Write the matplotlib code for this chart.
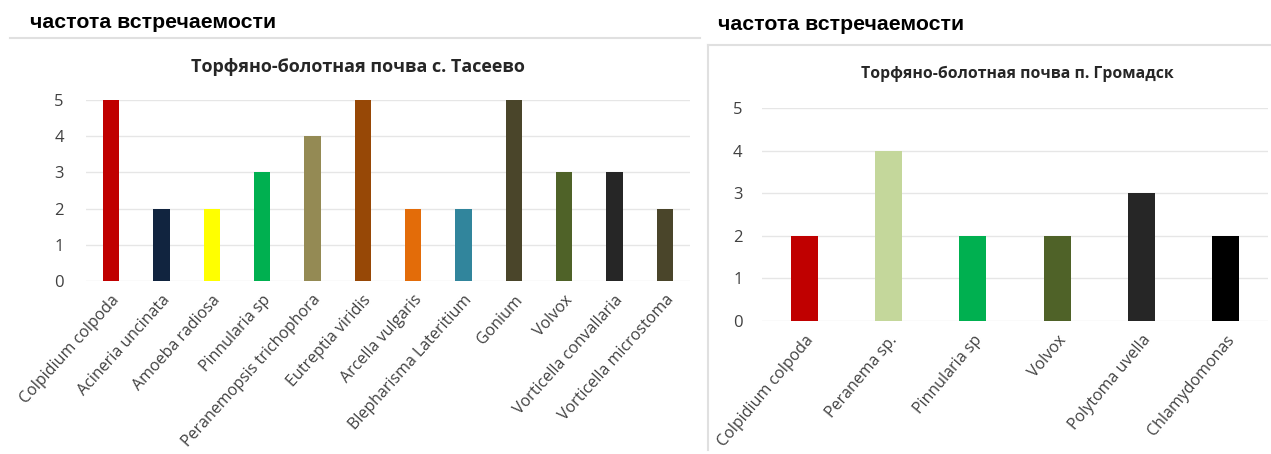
import matplotlib
matplotlib.use("Agg")
import matplotlib.pyplot as plt
from matplotlib.lines import Line2D
import matplotlib.transforms as mtransforms

plt.rcParams['font.family'] = ['Open Sans', 'DejaVu Sans']

header = "частота встречаемости"

left_title = "Торфяно-болотная почва с. Тасеево"
left_categories = ["Colpidium colpoda", "Acineria uncinata", "Amoeba radiosa", "Pinnularia sp",
                   "Peranemopsis trichophora", "Eutreptia viridis", "Arcella vulgaris",
                   "Blepharisma Lateritium", "Gonium", "Volvox", "Vorticella convallaria",
                   "Vorticella microstoma"]
left_values = [5, 2, 2, 3, 4, 5, 2, 2, 5, 3, 3, 2]
left_colors = ["#C00000", "#11243F", "#FFFF00", "#00B050", "#948A54", "#974806",
               "#E36C09", "#31859C", "#4A452A", "#4F6228", "#262626", "#4A452A"]

right_title = "Торфяно-болотная почва п. Громадск"
right_categories = ["Colpidium colpoda", "Peranema sp.", "Pinnularia sp", "Volvox",
                    "Polytoma uvella", "Chlamydomonas"]
right_values = [2, 4, 2, 2, 3, 2]
right_colors = ["#C00000", "#C4D79B", "#00B050", "#4F6228", "#262626", "#000000"]

W, H = 1271, 454
fig = plt.figure(figsize=(W / 100, H / 100), dpi=100)


def px_axes(x0, y_top, x1, y_bottom):
    return fig.add_axes([x0 / W, 1 - y_bottom / H, (x1 - x0) / W, (y_bottom - y_top) / H])


def style(ax, cats, vals, cols, width, fs, rot, dx, ypad):
    ax.bar(range(len(cats)), vals, color=cols, width=width, zorder=3)
    ax.set_xlim(-0.5, len(cats) - 0.5)
    ax.set_ylim(0, 5)
    ax.set_yticks(range(6))
    ax.grid(axis='y', color='#E6E6E6', linewidth=1, zorder=0)
    for s in ax.spines.values():
        s.set_visible(False)
    ax.tick_params(axis='both', length=0, colors='#404040', labelsize=12)
    ax.tick_params(axis='y', pad=ypad)
    ax.set_xticks(range(len(cats)))
    ax.set_xticklabels(cats, rotation=rot, ha='right', rotation_mode='anchor',
                       fontsize=fs, color='#404040')
    ax.tick_params(axis='x', pad=8)
    off = mtransforms.ScaledTranslation(dx / 100, 0, fig.dpi_scale_trans)
    for lab in ax.get_xticklabels():
        lab.set_transform(lab.get_transform() + off)


# Left chart
axL = px_axes(86, 100, 690, 281)
style(axL, left_categories, left_values, left_colors, 0.32, 11.5, 48, 0, 16)
fig.text(358 / W, 1 - 67 / H, left_title, ha='center', va='center', fontsize=13,
         fontweight='bold', color='#262626')

# Right chart
axR = px_axes(762, 108, 1268, 321)
style(axR, right_categories, right_values, right_colors, 0.32, 11.5, 50, 0, 14)
fig.text(1017 / W, 1 - 74 / H, right_title, ha='center', va='center', fontsize=11.3,
         fontweight='bold', color='#262626')

# Headers
fig.text(30 / W, 1 - 23 / H, header, ha='left', va='center', fontsize=15.3,
         fontweight='bold', color='black', family=['Liberation Sans', 'DejaVu Sans'])
fig.text(718 / W, 1 - 24 / H, header, ha='left', va='center', fontsize=15.3,
         fontweight='bold', color='black', family=['Liberation Sans', 'DejaVu Sans'])

# Panel borders
fig.add_artist(Line2D([10 / W, 700 / W], [1 - 38 / H, 1 - 38 / H], color='#E0E0E0', lw=1.5))
fig.add_artist(Line2D([708 / W, 1271 / W], [1 - 45 / H, 1 - 45 / H], color='#E0E0E0', lw=1.5))
fig.add_artist(Line2D([708 / W, 708 / W], [1 - 45 / H, 1 - 450 / H], color='#E0E0E0', lw=1.5))

fig.savefig("out.png", dpi=100)
